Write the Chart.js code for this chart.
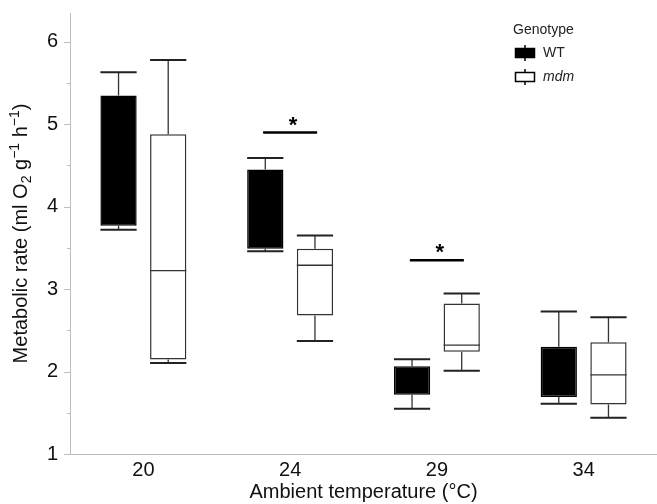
<!DOCTYPE html>
<html>
<head>
<meta charset="utf-8">
<script src="https://cdn.jsdelivr.net/npm/chart.js@4"></script>
<style>
html,body{margin:0;padding:0;background:#fff;}
#wrap{width:657px;height:504px;position:relative;}
</style>
</head>
<body>
<div id="wrap"><canvas id="c" width="657" height="504"></canvas></div>
<script>
// ---- data ----
const categories = ['20', '24', '29', '34'];
const seriesNames = ['WT', 'mdm'];
const wtMin = [3.72, 3.46, 1.55, 1.61];
const wtQ1  = [3.77, 3.49, 1.72, 1.69];
const wtQ3  = [5.35, 4.45, 2.065, 2.30];
const wtMax = [5.63, 4.59, 2.15, 2.73];
const mdmMin = [2.105, 2.37, 2.01, 1.44];
const mdmQ1  = [2.146, 2.68, 2.24, 1.60];
const mdmMed = [3.225, 3.29, 2.32, 1.96];
const mdmQ3  = [4.88, 3.49, 2.825, 2.357];
const mdmMax = [5.78, 3.65, 2.946, 2.66];
const yTickValues = [1, 2, 3, 4, 5, 6];
const sigCategoryIndex = [1, 2];
const sigLevel = [4.90, 3.35];
const xTitle = 'Ambient temperature (°C)';
const yTitleParts = [
  {t: 'Metabolic rate (ml O', k: 'n'}, {t: '2', k: 'sub'}, {t: ' g', k: 'n'},
  {t: '\u22121', k: 'sup'}, {t: ' h', k: 'n'}, {t: '\u22121', k: 'sup'}, {t: ')', k: 'n'}
];

const FONT = '"Liberation Sans", Arial, Helvetica, sans-serif';
const AXIS_GRAY = '#bdbdbd';

const boxes = [
  {min: wtMin, q1: wtQ1, med: null, q3: wtQ3, max: wtMax},
  {min: mdmMin, q1: mdmQ1, med: mdmMed, q3: mdmQ3, max: mdmMax}
];

const boxPlugin = {
  id: 'boxExtras',
  afterDatasetsDraw(chart) {
    const ctx = chart.ctx;
    const y = chart.scales.y;
    ctx.save();
    boxes.forEach((b, di) => {
      const meta = chart.getDatasetMeta(di);
      meta.data.forEach((bar, i) => {
        const cx = bar.x, w = bar.width;
        const pMin = y.getPixelForValue(b.min[i]);
        const pQ1 = y.getPixelForValue(b.q1[i]);
        const pQ3 = y.getPixelForValue(b.q3[i]);
        const pMax = y.getPixelForValue(b.max[i]);
        ctx.strokeStyle = '#333';
        ctx.lineWidth = 1.3;
        ctx.beginPath();
        ctx.moveTo(cx, pQ3); ctx.lineTo(cx, pMax);
        ctx.moveTo(cx, pQ1); ctx.lineTo(cx, pMin);
        ctx.stroke();
        ctx.lineWidth = 2;
        ctx.strokeStyle = '#222';
        ctx.beginPath();
        ctx.moveTo(cx - w / 2, pMax); ctx.lineTo(cx + w / 2, pMax);
        ctx.moveTo(cx - w / 2, pMin); ctx.lineTo(cx + w / 2, pMin);
        ctx.stroke();
        if (b.med) {
          const pMed = y.getPixelForValue(b.med[i]);
          ctx.lineWidth = 1.3;
          ctx.strokeStyle = '#333';
          ctx.beginPath();
          ctx.moveTo(cx - w / 2, pMed); ctx.lineTo(cx + w / 2, pMed);
          ctx.stroke();
        }
      });
    });
    // significance bars
    const x = chart.scales.x;
    sigCategoryIndex.forEach((ci, k) => {
      const cx = x.getPixelForValue(ci);
      const py = y.getPixelForValue(sigLevel[k]);
      ctx.strokeStyle = '#000';
      ctx.lineWidth = 2.5;
      ctx.beginPath();
      ctx.moveTo(cx - 27, py); ctx.lineTo(cx + 27, py);
      ctx.stroke();
      ctx.fillStyle = '#000';
      ctx.font = 'bold 22px ' + FONT;
      ctx.textAlign = 'center';
      ctx.textBaseline = 'alphabetic';
      ctx.fillText('*', cx + 3, py - 1);
    });
    ctx.restore();
  },
  afterDraw(chart) {
    const ctx = chart.ctx;
    const y = chart.scales.y;
    const area = chart.chartArea;
    const left = area.left;
    ctx.save();
    // y tick marks (major + minor)
    ctx.strokeStyle = AXIS_GRAY;
    ctx.lineWidth = 1;
    for (let v = 1; v <= 6.001; v += 0.5) {
      const py = Math.round(y.getPixelForValue(v)) + 0.5;
      const len = Number.isInteger(v) ? 6 : 3;
      ctx.beginPath();
      ctx.moveTo(left - len, py); ctx.lineTo(left, py);
      ctx.stroke();
    }
    // y axis title with sub/superscripts
    ctx.save();
    ctx.translate(20, (area.top + area.bottom) / 2);
    ctx.rotate(-Math.PI / 2);
    ctx.fillStyle = '#111';
    ctx.textBaseline = 'alphabetic';
    ctx.textAlign = 'left';
    const fontFor = k => (k === 'n' ? '20px ' : '14px ') + FONT;
    let total = 0;
    yTitleParts.forEach(p => { ctx.font = fontFor(p.k); total += ctx.measureText(p.t).width; });
    let px = -total / 2;
    yTitleParts.forEach(p => {
      ctx.font = fontFor(p.k);
      const dy = p.k === 'sub' ? 4 : (p.k === 'sup' ? -8 : 0);
      ctx.fillText(p.t, px, 7 + dy);
      px += ctx.measureText(p.t).width;
    });
    ctx.restore();
    // legend
    const lx = 515, tY = 30;
    ctx.fillStyle = '#222';
    ctx.font = '14px ' + FONT;
    ctx.textAlign = 'left';
    ctx.textBaseline = 'middle';
    ctx.fillText('Genotype', lx - 2, tY);
    const rows = [{y: 53, fill: '#000', name: seriesNames[0], italic: false},
                  {y: 77, fill: '#fff', name: seriesNames[1], italic: true}];
    rows.forEach(r => {
      ctx.strokeStyle = '#000';
      ctx.lineWidth = 1.5;
      ctx.beginPath();
      ctx.moveTo(lx + 10, r.y - 8); ctx.lineTo(lx + 10, r.y + 8);
      ctx.stroke();
      ctx.fillStyle = r.fill;
      ctx.fillRect(lx, r.y - 5, 20, 10);
      ctx.strokeRect(lx + 0.5, r.y - 4.5, 19, 9);
      ctx.fillStyle = '#222';
      ctx.font = (r.italic ? 'italic ' : '') + '14px ' + FONT;
      ctx.fillText(r.name, lx + 28, r.y);
    });
    ctx.restore();
  }
};

new Chart(document.getElementById('c'), {
  type: 'bar',
  data: {
    labels: categories,
    datasets: [
      {
        label: seriesNames[0],
        data: wtQ1.map((v, i) => [v, wtQ3[i]]),
        backgroundColor: '#000',
        borderColor: '#000',
        borderWidth: 1.5,
        borderSkipped: false,
        categoryPercentage: 0.677,
        barPercentage: 0.73
      },
      {
        label: seriesNames[1],
        data: mdmQ1.map((v, i) => [v, mdmQ3[i]]),
        backgroundColor: '#fff',
        borderColor: '#333',
        borderWidth: 1.5,
        borderSkipped: false,
        categoryPercentage: 0.677,
        barPercentage: 0.73
      }
    ]
  },
  options: {
    responsive: false,
    animation: false,
    layout: {padding: {top: 13, right: 0, bottom: 0, left: 0}},
    plugins: {legend: {display: false}, tooltip: {enabled: false}},
    scales: {
      x: {
        grid: {display: false},
        border: {display: true, color: AXIS_GRAY, width: 1},
        ticks: {color: '#111', font: {family: FONT, size: 20}, padding: -4},
        title: {display: true, text: xTitle, color: '#111',
                font: {family: FONT, size: 20}, padding: {top: 0, bottom: 0}},
        afterFit: s => { s.height = 50; s.paddingLeft = 0; s.paddingRight = 0; }
      },
      y: {
        min: 1, max: 6.35,
        grid: {display: false},
        border: {display: true, color: AXIS_GRAY, width: 1},
        ticks: {
          stepSize: 0.5, includeBounds: false,
          color: '#111', font: {family: FONT, size: 20}, padding: 4,
          callback: v => (yTickValues.includes(v) ? String(v) : '')
        },
        title: {display: false},
        afterFit: s => { s.width = 70; s.paddingTop = 0; s.paddingBottom = 0; }
      }
    }
  },
  plugins: [boxPlugin]
});
</script>
</body>
</html>
